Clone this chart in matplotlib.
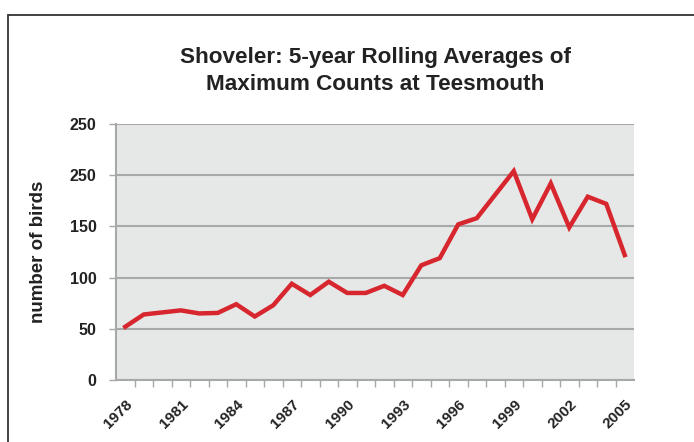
import matplotlib
matplotlib.use("Agg")
import matplotlib.pyplot as plt
import matplotlib.transforms as mtransforms
from matplotlib.patches import Rectangle

plt.rcParams["font.family"] = ["Liberation Sans", "DejaVu Sans"]

YEARS = list(range(1978, 2006))
SHOVELER = [52, 64, 66, 68, 65, 65.5, 74, 62, 73, 94, 83, 96, 85, 85,
            92, 83, 112, 119, 152, 158, 181, 204, 157, 192, 149, 179, 172, 122]
Y_TICKS = [0, 50, 100, 150, 200, 250]
Y_TICK_LABELS = ["0", "50", "100", "150", "250", "250"]  # as printed on the original
X_LABEL_YEARS = [1978, 1981, 1984, 1987, 1990, 1993, 1996, 1999, 2002, 2005]

RED = "#d7262e"
GRID = "#a7a8a8"
BG = "#e6e7e7"

W, H = 694, 442
fig = plt.figure(figsize=(W / 100, H / 100), dpi=100)

# outer frame (cropped on the right and bottom)
fig.patches.append(Rectangle((7.5 / W, -0.1), 1.2, (H - 15) / H + 0.1,
                             transform=fig.transFigure, fill=False,
                             edgecolor="#333333", linewidth=1.3))

ax = fig.add_axes([116 / W, (H - 380) / H, 518 / W, 256 / H])
ax.set_facecolor(BG)

x = list(range(len(YEARS)))
ax.plot(x, SHOVELER, color=RED, linewidth=3.2, solid_joinstyle="miter", zorder=3)

ax.set_xlim(-0.5, len(YEARS) - 0.5)
ax.set_ylim(0, 250)

ax.set_yticks(Y_TICKS)
ax.set_yticklabels(Y_TICK_LABELS, fontsize=11.5, fontweight="bold", color="#222222")
ax.tick_params(axis="y", length=5, width=1, color=GRID, pad=9)
ax.yaxis.grid(True, color=GRID, linewidth=1.5)
ax.set_axisbelow(True)

label_pos = [YEARS.index(y) for y in X_LABEL_YEARS]
ax.set_xticks(label_pos)
ax.set_xticklabels([str(y) for y in X_LABEL_YEARS], rotation=45, ha="right",
                   va="center", rotation_mode="anchor", fontsize=11,
                   fontweight="bold", color="#222222")
ax.tick_params(axis="x", length=0, pad=16)
offset = mtransforms.ScaledTranslation(5 / 100, 0, fig.dpi_scale_trans)
for lbl in ax.get_xticklabels():
    lbl.set_transform(lbl.get_transform() + offset)
ax.set_xticks([i + 0.5 for i in range(len(YEARS) - 1)], minor=True)
ax.tick_params(axis="x", which="minor", length=5, width=1, color=GRID)

for side in ["top", "right"]:
    ax.spines[side].set_visible(False)
for side in ["left", "bottom"]:
    ax.spines[side].set_color(GRID)
    ax.spines[side].set_linewidth(1.5)

ax.set_ylabel("number of birds", fontsize=13.5, fontweight="bold", color="#222222")
ax.yaxis.set_label_coords(-(116 - 47) / 518, 0.5)

fig.text(375 / W, 1 - 71 / H, "Shoveler: 5-year Rolling Averages of\nMaximum Counts at Teesmouth",
         ha="center", va="center", fontsize=16.2, fontweight="bold", color="#222222",
         linespacing=1.42)

fig.savefig("out.png", dpi=100)
